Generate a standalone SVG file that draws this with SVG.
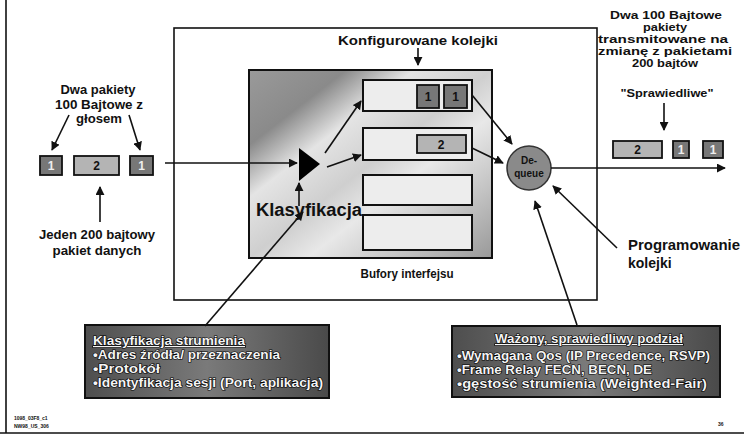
<svg xmlns="http://www.w3.org/2000/svg" width="744" height="435" viewBox="0 0 744 435">
<defs>
<marker id="ah" viewBox="0 0 10 10" refX="9" refY="5" markerWidth="9" markerHeight="9" orient="auto" markerUnits="userSpaceOnUse"><path d="M0,0 L10,5 L0,10 z" fill="#111"/></marker>
<linearGradient id="bg" x1="0" y1="0" x2="1" y2="1">
<stop offset="0" stop-color="#9a9a9a"/>
<stop offset="0.2" stop-color="#8a8a8a"/>
<stop offset="0.34" stop-color="#e4e4e4"/>
<stop offset="0.5" stop-color="#cfcfcf"/>
<stop offset="0.62" stop-color="#e8e8e8"/>
<stop offset="0.8" stop-color="#c4c4c4"/>
<stop offset="1" stop-color="#999"/>
</linearGradient>
<linearGradient id="boxg" x1="0" y1="0" x2="1" y2="0">
<stop offset="0" stop-color="#4e4e4e"/>
<stop offset="0.5" stop-color="#7a7a7a"/>
<stop offset="1" stop-color="#4a4a4a"/>
</linearGradient>
</defs>
<style>
text{font-family:"Liberation Sans",Arial,sans-serif;font-weight:bold;fill:#111}
.ln{stroke:#111;stroke-width:1.6;fill:none}
.ar{stroke:#111;stroke-width:1.6;fill:none;marker-end:url(#ah)}
.q{fill:#ededed;stroke:#111;stroke-width:2}
.p1{fill:#777;stroke:#111;stroke-width:1.8}
.p2{fill:#b4b4b4;stroke:#111;stroke-width:1.8}
.pt{font-size:12px;text-anchor:middle;fill:#111}
.po{font-size:12px;text-anchor:middle;fill:#eee}
.lbl{font-size:13px;text-anchor:middle}
.sm{font-size:11.5px;text-anchor:middle}
.bx{font-size:12px;fill:#f4f4f4;stroke:#000;stroke-width:1.2;paint-order:stroke}
.tiny{font-size:5px}
</style>

<g id="frame">
<line class="ln" x1="6" y1="0" x2="6" y2="433" stroke-width="2"/>
<line class="ln" x1="0" y1="433" x2="744" y2="433"/>
<text class="tiny" x="14" y="420">1098_03F8_c1</text>
<text class="tiny" x="14" y="428">NW98_US_306</text>
<text class="tiny" x="718" y="426">36</text>
</g>

<g id="main-box">
<rect x="174" y="28" width="423" height="272" fill="#fff" stroke="#111" stroke-width="1.6"/>
</g>

<g id="interface">
<rect x="249" y="70" width="243" height="188" fill="url(#bg)" stroke="#111" stroke-width="2"/>
</g>

<g id="queue1">
<rect class="q" x="363" y="80" width="109" height="31"/>
<rect class="p1" x="417" y="85" width="22" height="23"/>
<text class="pt" x="428" y="101">1</text>
<rect class="p1" x="444" y="85" width="23" height="23"/>
<text class="pt" x="455.5" y="101">1</text>
</g>
<g id="queue2">
<rect class="q" x="363" y="128" width="109" height="32"/>
<rect class="p2" x="417" y="135" width="49" height="18"/>
<text class="pt" x="441" y="149">2</text>
</g>
<g id="queue3"><rect class="q" x="363" y="175" width="109" height="30"/></g>
<g id="queue4"><rect class="q" x="363" y="215" width="109" height="35"/></g>

<g id="classifier">
<polygon points="299,148 320,164 299,181" fill="#000"/>
<text x="309" y="216" font-size="18" text-anchor="middle" textLength="106" lengthAdjust="spacingAndGlyphs">Klasyfikacja</text>
</g>

<g id="dequeue">
<circle cx="529" cy="168" r="22" fill="#8a8a8a" stroke="#333" stroke-width="1.5"/>
<text x="529" y="164" font-size="10" text-anchor="middle">De-</text>
<text x="529" y="177" font-size="10" text-anchor="middle">queue</text>
</g>

<g id="labels">
<text class="lbl" x="418" y="45" font-size="14" textLength="160" lengthAdjust="spacingAndGlyphs">Konfigurowane kolejki</text>
<text class="lbl" x="407" y="278" font-size="14" textLength="93" lengthAdjust="spacingAndGlyphs">Bufory interfejsu</text>
<text class="lbl" x="98" y="94" textLength="75" lengthAdjust="spacingAndGlyphs">Dwa pakiety</text>
<text class="lbl" x="99" y="109" textLength="88" lengthAdjust="spacingAndGlyphs">100 Bajtowe z</text>
<text class="lbl" x="99" y="123" textLength="46" lengthAdjust="spacingAndGlyphs">głosem</text>
<text class="lbl" x="97" y="239" textLength="116" lengthAdjust="spacingAndGlyphs">Jeden 200 bajtowy</text>
<text class="lbl" x="97" y="255" textLength="89" lengthAdjust="spacingAndGlyphs">pakiet danych</text>
<text class="sm" x="666" y="19" textLength="112" lengthAdjust="spacingAndGlyphs">Dwa  100 Bajtowe</text>
<text class="sm" x="665" y="31" textLength="44" lengthAdjust="spacingAndGlyphs">pakiety</text>
<text class="sm" x="663" y="43" textLength="130" lengthAdjust="spacingAndGlyphs">transmitowane na</text>
<text class="sm" x="665" y="55" textLength="134" lengthAdjust="spacingAndGlyphs">zmianę z pakietami</text>
<text class="sm" x="665" y="67" textLength="66" lengthAdjust="spacingAndGlyphs">200 bajtów</text>
<text class="sm" x="667" y="97" textLength="93" lengthAdjust="spacingAndGlyphs">"Sprawiedliwe"</text>
<text x="628" y="250" font-size="14" textLength="112" lengthAdjust="spacingAndGlyphs">Programowanie</text>
<text x="628" y="268" font-size="14">kolejki</text>
</g>

<g id="input-packets">
<rect class="p1" x="40" y="156" width="22" height="19"/>
<text class="po" x="51" y="170">1</text>
<rect class="p2" x="74" y="156" width="45" height="19"/>
<text class="pt" x="96.5" y="170">2</text>
<rect class="p1" x="130" y="156" width="23" height="19"/>
<text class="po" x="141.5" y="170">1</text>
</g>

<g id="output-packets">
<rect class="p2" x="613" y="141" width="49" height="17"/>
<text class="pt" x="637.5" y="154">2</text>
<rect class="p1" x="673" y="141" width="16" height="17"/>
<text class="po" x="681" y="154">1</text>
<rect class="p1" x="703" y="141" width="20" height="17"/>
<text class="po" x="713" y="154">1</text>
</g>

<g id="flow-box">
<rect x="85" y="325" width="244" height="73" fill="url(#boxg)" stroke="#111" stroke-width="2"/>
<text class="bx" x="93" y="345" text-decoration="underline" textLength="152" lengthAdjust="spacingAndGlyphs">Klasyfikacja strumienia</text>
<text class="bx" x="93" y="359" textLength="187" lengthAdjust="spacingAndGlyphs">•Adres źródła/ przeznaczenia</text>
<text class="bx" x="93" y="373" textLength="67" lengthAdjust="spacingAndGlyphs">•Protokół</text>
<text class="bx" x="93" y="387" textLength="230" lengthAdjust="spacingAndGlyphs">•Identyfikacja sesji (Port, aplikacja)</text>
</g>

<g id="wfq-box">
<rect x="452" y="326" width="268" height="71" fill="url(#boxg)" stroke="#111" stroke-width="2"/>
<text class="bx" x="589" y="343" text-anchor="middle" text-decoration="underline" textLength="188" lengthAdjust="spacingAndGlyphs">Ważony, sprawiedliwy podział</text>
<text class="bx" x="457" y="360" textLength="253" lengthAdjust="spacingAndGlyphs">•Wymagana Qos (IP Precedence, RSVP)</text>
<text class="bx" x="457" y="374" textLength="195" lengthAdjust="spacingAndGlyphs">•Frame Relay FECN, BECN, DE</text>
<text class="bx" x="457" y="388" textLength="250" lengthAdjust="spacingAndGlyphs">•gęstość strumienia (Weighted-Fair)</text>
</g>

<g id="connectors">
<line class="ar" x1="165" y1="163" x2="297" y2="163"/>
<line class="ar" x1="325" y1="153" x2="361" y2="101"/>
<line class="ar" x1="327" y1="167" x2="361" y2="155"/>
<line class="ar" x1="299" y1="206" x2="299" y2="183"/>
<line class="ar" x1="205" y1="326" x2="303" y2="212"/>
<line class="ar" x1="418" y1="48" x2="418" y2="65"/>
<line class="ar" x1="472" y1="95" x2="512" y2="144"/>
<line class="ar" x1="472" y1="148" x2="503" y2="163"/>
<line class="ar" x1="551" y1="168" x2="725" y2="168"/>
<line class="ar" x1="617" y1="248" x2="553" y2="186"/>
<line class="ar" x1="577" y1="325" x2="535" y2="201"/>
<line class="ar" x1="69" y1="115" x2="52" y2="150"/>
<line class="ar" x1="129" y1="115" x2="140" y2="150"/>
<line class="ar" x1="100" y1="222" x2="100" y2="187"/>
<line class="ar" x1="664" y1="103" x2="664" y2="130"/>
</g>
</svg>
